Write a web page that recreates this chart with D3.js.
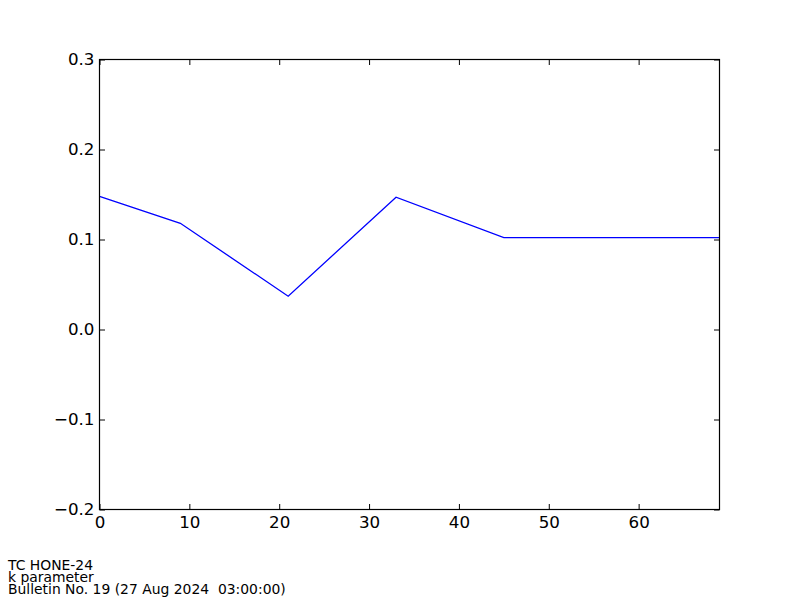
<!DOCTYPE html>
<html>
<head>
<meta charset="utf-8">
<script src="https://cdn.jsdelivr.net/npm/d3@7"></script>
<style>
  html, body { margin: 0; padding: 0; background: #fff; }
  svg { display: block; }
  text { font-family: "DejaVu Sans", sans-serif; }
</style>
</head>
<body>
<svg id="chart" width="800" height="600"></svg>
<script>
const xValues = [0, 9, 21, 33, 45, 69];
const kValues = [0.148, 0.118, 0.037, 0.147, 0.102, 0.102];
const xTicks = [0, 10, 20, 30, 40, 50, 60];
const yTicks = [-0.2, -0.1, 0.0, 0.1, 0.2, 0.3];
const footerLines = ["TC HONE-24", "k parameter", "Bulletin No. 19 (27 Aug 2024  03:00:00)"];

(function () {
const svg = d3.select("#chart");
const mLeft = 99.5, mRight = 719.5, mTop = 59.5, mBottom = 509.5;

const x = d3.scaleLinear().domain([0, 69]).range([mLeft, mRight]);
const y = d3.scaleLinear().domain([-0.2, 0.3]).range([mBottom, mTop]);

const fmtY = v => {
  const s = Math.abs(v).toFixed(1);
  return (v < -1e-9 ? "\u2212" : "") + s;
};

svg.append("clipPath").attr("id", "clip")
  .append("rect").attr("x", mLeft).attr("y", mTop).attr("width", mRight - mLeft).attr("height", mBottom - mTop);

svg.append("path")
  .datum(xValues.map((d, i) => [d, kValues[i]]))
  .attr("clip-path", "url(#clip)")
  .attr("fill", "none")
  .attr("stroke", "#0000ff")
  .attr("stroke-width", 1.3)
  .attr("d", d3.line().x(d => x(d[0])).y(d => y(d[1])));

const tl = 5.5;
const xb = svg.append("g").attr("transform", `translate(0,${mBottom})`)
  .call(d3.axisBottom(x).tickValues(xTicks).tickSize(-tl).tickPadding(7).tickFormat(d3.format("d")));
const xt = svg.append("g").attr("transform", `translate(0,${mTop})`)
  .call(d3.axisTop(x).tickValues(xTicks).tickSize(-tl).tickFormat(""));
const yl = svg.append("g").attr("transform", `translate(${mLeft},0)`)
  .call(d3.axisLeft(y).tickValues(yTicks).tickSize(-tl).tickPadding(5).tickFormat(fmtY));
const yr = svg.append("g").attr("transform", `translate(${mRight},0)`)
  .call(d3.axisRight(y).tickValues(yTicks).tickSize(-tl).tickFormat(""));

[xb, xt, yl, yr].forEach(g => {
  g.select(".domain").remove();
  g.selectAll(".tick line").attr("stroke", "#000").attr("stroke-width", 1);
  g.selectAll(".tick text").attr("fill", "#000").style("font-size", "16.7px").style("font-family", "DejaVu Sans, sans-serif");
});

svg.append("rect")
  .attr("x", mLeft).attr("y", mTop)
  .attr("width", mRight - mLeft).attr("height", mBottom - mTop)
  .attr("fill", "none").attr("stroke", "#000").attr("stroke-width", 1.2);

svg.selectAll("text.footer").data(footerLines).enter().append("text")
  .attr("class", "footer")
  .attr("x", 8)
  .attr("y", (d, i) => 570 + i * 12)
  .style("font-size", "13.9px")
  .style("white-space", "pre")
  .attr("fill", "#000")
  .text(d => d);
})();
</script>
</body>
</html>
